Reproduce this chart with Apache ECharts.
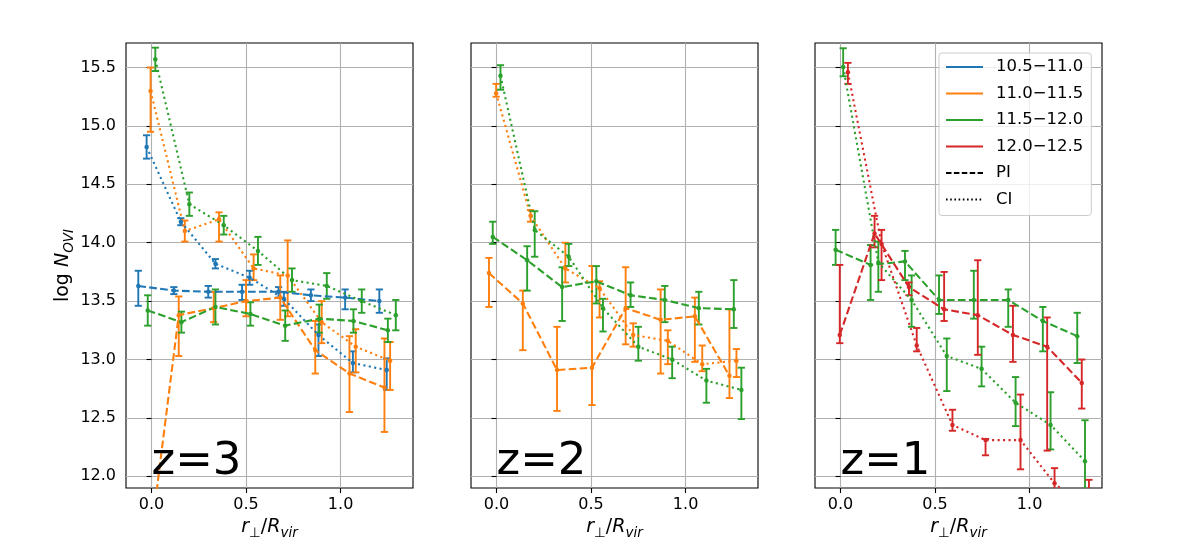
<!DOCTYPE html>
<html>
<head>
<meta charset="utf-8">
<script src="https://cdn.jsdelivr.net/npm/echarts@6.0.0/dist/echarts.min.js"></script>
<style>
  html, body { margin: 0; padding: 0; background: #ffffff; }
  #chart { width: 1184px; height: 554px; }
</style>
</head>
<body>
<div id="chart"></div>
<script>
// ---------------- DATA ----------------
const xTicks = [0.0, 0.5, 1.0];
const yTicks = [12.0, 12.5, 13.0, 13.5, 14.0, 14.5, 15.0, 15.5];
const massBins = ['10.5\u221211.0', '11.0\u221211.5', '11.5\u221212.0', '12.0\u221212.5'];
const styleNames = ['PI', 'CI'];
const redshiftLabels = ['z=3', 'z=2', 'z=1'];

// rows: [r_perp/R_vir, log N_OVI, error down, error up]
// z = 3
const z3_PI_105 = [[-0.07,13.63,0.17,0.13],[0.118,13.59,0.03,0.03],[0.30,13.58,0.05,0.05],[0.479,13.58,0.07,0.06],[0.672,13.58,0.05,0.04],[0.843,13.55,0.05,0.05],[1.024,13.53,0.10,0.07],[1.205,13.50,0.10,0.10]];
const z3_CI_105 = [[-0.026,14.82,0.10,0.10],[0.155,14.18,0.03,0.03],[0.338,13.82,0.04,0.04],[0.519,13.70,0.06,0.06],[0.70,13.52,0.06,0.06],[0.883,13.21,0.18,0.09],[1.065,12.97,0.08,0.10],[1.244,12.91,0.17,0.10]];
const z3_PI_110 = [[-0.01,11.40,0.20,0.20],[0.144,13.38,0.35,0.16],[0.329,13.44,0.12,0.14],[0.50,13.50,0.13,0.18],[0.681,13.53,0.19,0.19],[0.866,13.08,0.20,0.25],[1.047,12.88,0.33,0.32],[1.232,12.76,0.38,0.42]];
const z3_CI_110 = [[-0.005,15.30,0.35,0.20],[0.176,14.10,0.09,0.09],[0.357,14.20,0.19,0.06],[0.54,13.78,0.10,0.12],[0.72,13.72,0.35,0.30],[0.90,13.32,0.18,0.18],[1.08,13.11,0.22,0.15],[1.262,12.99,0.25,0.16]];
const z3_PI_115 = [[-0.02,13.42,0.13,0.13],[0.158,13.32,0.09,0.09],[0.338,13.45,0.15,0.15],[0.523,13.39,0.10,0.10],[0.707,13.29,0.13,0.13],[0.887,13.35,0.12,0.12],[1.068,13.33,0.10,0.10],[1.25,13.25,0.10,0.10]];
const z3_CI_115 = [[0.02,15.57,0.10,0.10],[0.20,14.33,0.10,0.10],[0.382,14.15,0.08,0.08],[0.563,13.93,0.12,0.12],[0.743,13.68,0.10,0.10],[0.927,13.63,0.11,0.11],[1.112,13.50,0.10,0.10],[1.292,13.38,0.13,0.13]];
// z = 2
const z2_PI_110 = [[-0.04,13.74,0.29,0.13],[0.139,13.48,0.40,0.11],[0.32,12.91,0.35,0.37],[0.505,12.93,0.32,0.87],[0.683,13.44,0.31,0.35],[0.868,13.34,0.46,0.26],[1.049,13.37,0.39,0.16],[1.232,12.86,0.19,0.57]];
const z2_CI_110 = [[-0.002,15.28,0.03,0.08],[0.18,14.23,0.05,0.05],[0.364,13.78,0.12,0.22],[0.545,13.61,0.25,0.06],[0.723,13.21,0.10,0.10],[0.906,13.16,0.20,0.09],[1.088,12.96,0.06,0.16],[1.269,12.99,0.14,0.10]];
const z2_PI_115 = [[-0.02,14.05,0.06,0.13],[0.162,13.85,0.26,0.12],[0.347,13.62,0.29,0.17],[0.528,13.67,0.19,0.13],[0.709,13.55,0.10,0.11],[0.89,13.51,0.19,0.12],[1.07,13.44,0.14,0.14],[1.255,13.43,0.16,0.25]];
const z2_CI_115 = [[0.021,15.43,0.12,0.09],[0.202,14.11,0.23,0.16],[0.382,13.88,0.08,0.11],[0.563,13.44,0.20,0.08],[0.75,13.11,0.12,0.17],[0.929,13.00,0.16,0.11],[1.11,12.82,0.19,0.10],[1.295,12.74,0.25,0.19]];
// z = 1
const z1_PI_115 = [[-0.026,13.94,0.13,0.17],[0.159,13.81,0.30,0.17],[0.341,13.84,0.16,0.09],[0.521,13.51,0.12,0.21],[0.705,13.51,0.16,0.25],[0.887,13.51,0.23,0.09],[1.07,13.33,0.26,0.12],[1.252,13.20,0.23,0.20]];
const z1_CI_115 = [[0.014,15.505,0.08,0.16],[0.20,13.83,0.25,0.18],[0.376,13.51,0.23,0.21],[0.562,13.03,0.30,0.15],[0.746,12.92,0.15,0.19],[0.926,12.63,0.20,0.22],[1.111,12.44,0.21,0.28],[1.293,12.13,0.35,0.35]];
const z1_PI_120 = [[-0.004,13.21,0.07,0.60],[0.18,14.08,0.12,0.15],[0.362,13.62,0.07,0.04],[0.548,13.43,0.10,0.32],[0.726,13.38,0.34,0.47],[0.912,13.21,0.23,0.25],[1.093,13.11,0.89,0.25],[1.276,12.80,0.22,0.20]];
const z1_CI_120 = [[0.039,15.46,0.10,0.08],[0.217,13.99,0.31,0.12],[0.403,13.12,0.05,0.15],[0.592,12.44,0.05,0.13],[0.767,12.31,0.13,0.01],[0.952,12.31,0.25,0.39],[1.132,11.94,0.13,0.13],[1.314,11.70,0.20,0.27]];

// ---------------- STYLE ----------------
const binColors = ['#1f77b4', '#ff7f0e', '#2ca02c', '#d62728'];
const FONT = 'DejaVu Sans';
const dashPI = [7.7, 3.3];
const dashCI = [2.1, 3.4];

const panels = [
  [[z3_PI_105,0,'PI'],[z3_CI_105,0,'CI'],[z3_PI_110,1,'PI'],[z3_CI_110,1,'CI'],[z3_PI_115,2,'PI'],[z3_CI_115,2,'CI']],
  [[z2_PI_110,1,'PI'],[z2_CI_110,1,'CI'],[z2_PI_115,2,'PI'],[z2_CI_115,2,'CI']],
  [[z1_PI_115,2,'PI'],[z1_CI_115,2,'CI'],[z1_PI_120,3,'PI'],[z1_CI_120,3,'CI']]
];

const gridLefts = [126, 471, 815];
const grids = gridLefts.map(l => ({
  left: l, top: 43, width: 287, height: 445,
  show: true, borderColor: '#000000', borderWidth: 1.1, backgroundColor: 'transparent',
  containLabel: false, outerBoundsMode: 'none'
}));

const xNameRich = {
  i: { fontFamily: FONT, fontSize: 19, fontStyle: 'italic', color: '#000', lineHeight: 26, verticalAlign: 'middle' },
  n: { fontFamily: FONT, fontSize: 19, color: '#000', lineHeight: 26 },
  s: { fontFamily: FONT, fontSize: 13.5, fontStyle: 'italic', color: '#000', lineHeight: 14, verticalAlign: 'bottom' },
  u: { fontFamily: FONT, fontSize: 13.5, color: '#000', lineHeight: 14, verticalAlign: 'bottom' }
};

const xAxes = grids.map((g, i) => ({
  type: 'value', gridIndex: i, min: -0.135, max: 1.383,
  axisLine: { show: false },
  axisTick: { show: true, inside: false, length: 5, customValues: xTicks, lineStyle: { color: '#000', width: 1.1 } },
  axisLabel: { show: true, customValues: xTicks, margin: 9, fontSize: 16, fontFamily: FONT, color: '#000',
               formatter: v => v.toFixed(1) },
  splitLine: { show: true, lineStyle: { color: '#b0b0b0', width: 1.1 } },
  name: '{i|r}{u|\u22a5}{n|/}{i|R}{s|vir}',
  nameLocation: 'middle', nameGap: 26,
  nameTextStyle: { rich: xNameRich, fontFamily: FONT, fontSize: 19, color: '#000' }
}));

const yAxes = grids.map((g, i) => ({
  type: 'value', gridIndex: i, min: 11.9, max: 15.71,
  axisLine: { show: false },
  axisTick: { show: true, inside: false, length: 5, customValues: yTicks, lineStyle: { color: '#000', width: 1.1 } },
  axisLabel: { show: i === 0, customValues: yTicks, margin: 10, fontSize: 16, fontFamily: FONT, color: '#000',
               formatter: v => v.toFixed(1) },
  splitLine: { show: true, lineStyle: { color: '#b0b0b0', width: 1.1 } },
  name: i === 0 ? '{n|log }{i|N}{s|OVI}' : '',
  nameLocation: 'middle', nameGap: 50, nameRotate: 90,
  nameTextStyle: { rich: {
    n: { fontFamily: FONT, fontSize: 19, color: '#000', lineHeight: 26 },
    i: { fontFamily: FONT, fontSize: 19, fontStyle: 'italic', color: '#000', lineHeight: 26 },
    s: { fontFamily: FONT, fontSize: 13.5, fontStyle: 'italic', color: '#000', lineHeight: 14, verticalAlign: 'bottom' }
  } }
}));

function errRenderer(color) {
  return function (params, api) {
    const x = api.value(0), y = api.value(1), dn = api.value(2), up = api.value(3);
    const a = api.coord([x, y - dn]);
    const b = api.coord([x, y + up]);
    const st = { stroke: color, lineWidth: 1.9 };
    const cw = 3.6;
    return {
      type: 'group',
      children: [
        { type: 'line', shape: { x1: a[0], y1: a[1], x2: b[0], y2: b[1] }, style: st },
        { type: 'line', shape: { x1: a[0] - cw, y1: a[1], x2: a[0] + cw, y2: a[1] }, style: st },
        { type: 'line', shape: { x1: b[0] - cw, y1: b[1], x2: b[0] + cw, y2: b[1] }, style: st }
      ]
    };
  };
}

const series = [];
panels.forEach((sets, pi) => {
  sets.forEach(([rows, bin, kind]) => {
    const color = binColors[bin];
    series.push({
      name: 'p' + pi + '_' + kind + '_' + bin,
      type: 'line', xAxisIndex: pi, yAxisIndex: pi,
      data: rows.map(r => [r[0], r[1]]),
      symbol: 'circle', symbolSize: 4.5, showSymbol: true,
      lineStyle: { color: color, width: 2.1, type: kind === 'PI' ? dashPI : dashCI, cap: 'butt' },
      itemStyle: { color: color },
      clip: true, silent: true, animation: false, z: 3
    });
    series.push({
      name: 'e' + pi + '_' + kind + '_' + bin,
      type: 'custom', xAxisIndex: pi, yAxisIndex: pi,
      data: rows, encode: { x: 0, y: 1 },
      renderItem: errRenderer(color),
      clip: true, silent: true, animation: false, z: 3
    });
  });
});

// legend proxy entries
massBins.forEach((nm, b) => {
  series.push({ name: nm, type: 'line', xAxisIndex: 2, yAxisIndex: 2, data: [], symbol: 'none',
                lineStyle: { color: binColors[b], width: 2.1 }, itemStyle: { color: binColors[b] } });
});
series.push({ name: styleNames[0], type: 'line', xAxisIndex: 2, yAxisIndex: 2, data: [], symbol: 'none',
              lineStyle: { color: '#000', width: 1.6, type: [5.5, 2.4] }, itemStyle: { color: '#000' } });
series.push({ name: styleNames[1], type: 'line', xAxisIndex: 2, yAxisIndex: 2, data: [], symbol: 'none',
              lineStyle: { color: '#000', width: 1.6, type: [1.6, 2.6] }, itemStyle: { color: '#000' } });

const chart = echarts.init(document.getElementById('chart'), null, { renderer: 'canvas' });
chart.setOption({
  animation: false,
  backgroundColor: '#ffffff',
  textStyle: { fontFamily: FONT },
  grid: grids,
  xAxis: xAxes,
  yAxis: yAxes,
  legend: {
    orient: 'vertical', left: 939, top: 53,
    itemWidth: 37, itemHeight: 1, itemGap: 6.5,
    padding: [4, 8, 6, 6],
    itemStyle: { opacity: 0, borderWidth: 0 },
    backgroundColor: 'rgba(255,255,255,0.8)', borderColor: '#cccccc', borderWidth: 1, borderRadius: 3,
    textStyle: { fontSize: 16.5, color: '#000', fontFamily: FONT, lineHeight: 20, padding: [0, 0, 0, 8] },
    selectedMode: false,
    data: massBins.concat(styleNames)
  },
  series: series
});

// redshift labels anchored at data point (0, 12.0) of each panel
const graphics = redshiftLabels.map((t, i) => {
  const p = chart.convertToPixel({ xAxisIndex: i, yAxisIndex: i }, [0, 12.0]);
  return {
    type: 'text', x: p[0], y: p[1] + 8, z: 10,
    style: { text: t, fontFamily: FONT, fontSize: 45, fill: '#000', textAlign: 'left', textVerticalAlign: 'bottom' }
  };
});
chart.setOption({ graphic: graphics });
</script>
</body>
</html>
